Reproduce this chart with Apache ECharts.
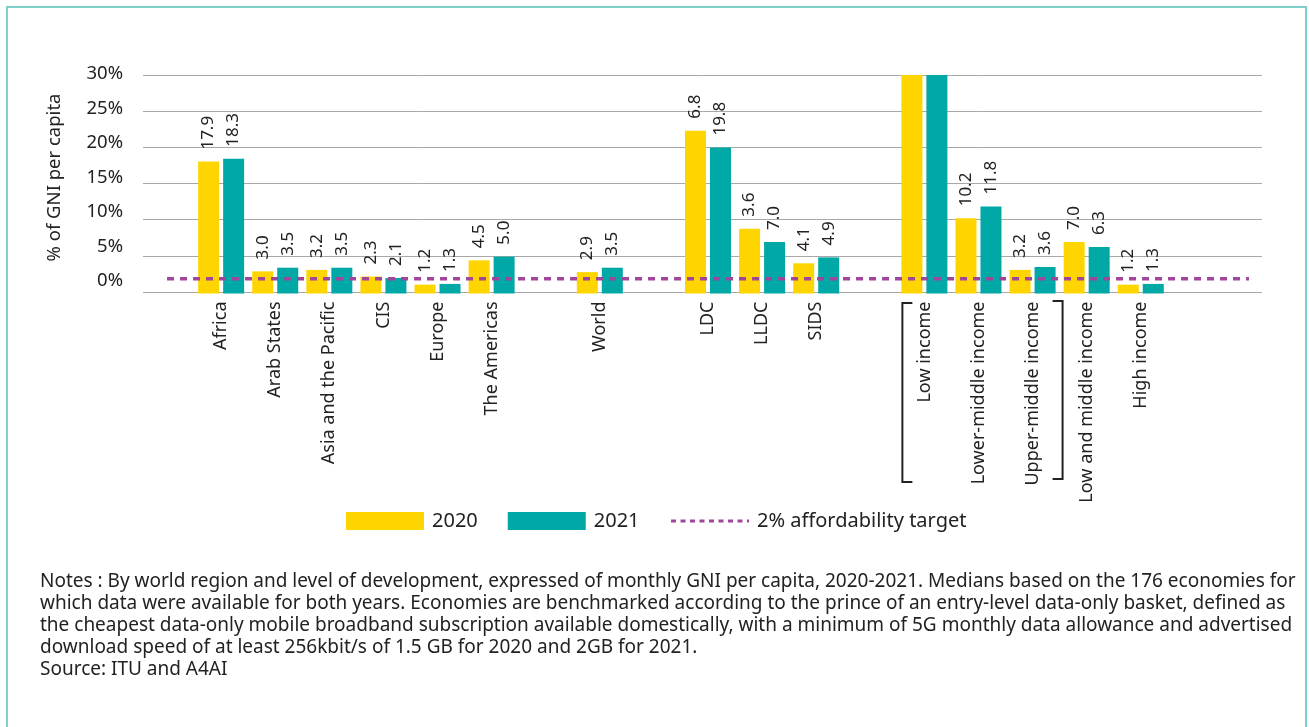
<!DOCTYPE html>
<html><head><meta charset="utf-8">
<script src="https://cdn.jsdelivr.net/npm/echarts@6/dist/echarts.min.js"></script>
<style>html,body{margin:0;padding:0;background:#fff}#c{width:1309px;height:727px}</style>
</head><body><div id="c"></div>
<script>
const categories = [' ', 'Africa', 'Arab States', 'Asia and the Pacific', 'CIS', 'Europe', 'The Americas', '  ', 'World', '   ', 'LDC', 'LLDC', 'SIDS', '    ', 'Low income', 'Lower-middle income', 'Upper-middle income', 'Low and middle income', 'High income', '     ', '      '];
const values2020 = [null, 17.9, 3.0, 3.2, 2.3, 1.2, 4.5, null, 2.9, null, 22.1, 8.8, 4.1, null, 30, 10.2, 3.2, 7.0, 1.2, null, null];
const labels2020 = ['', '17.9', '3.0', '3.2', '2.3', '1.2', '4.5', '', '2.9', '', '6.8', '3.6', '4.1', '', '', '10.2', '3.2', '7.0', '1.2', '', ''];
const values2021 = [null, 18.3, 3.5, 3.5, 2.1, 1.3, 5.0, null, 3.5, null, 19.8, 7.0, 4.9, null, 30, 11.8, 3.6, 6.3, 1.3, null, null];
const labels2021 = ['', '18.3', '3.5', '3.5', '2.1', '1.3', '5.0', '', '3.5', '', '19.8', '7.0', '4.9', '', '', '11.8', '3.6', '6.3', '1.3', '', ''];
const targetLine = [2, 2, 2, 2, 2, 2, 2, 2, 2, 2, 2, 2, 2, 2, 2, 2, 2, 2, 2, 2, 2];
const yTicks = [0, 5, 10, 15, 20, 25, 30];
const seriesNames = ['2020', '2021', '2% affordability target'];
const notesText = [
  'Notes : By world region and level of development, expressed of monthly GNI per capita, 2020-2021. Medians based on the 176 economies for',
  'which data were available for both years. Economies are benchmarked according to the prince of an entry-level data-only basket, defined as',
  'the cheapest data-only mobile broadband subscription available domestically, with a minimum of 5G monthly data allowance and advertised',
  'download speed of at least 256kbit/s of 1.5 GB for 2020 and 2GB for 2021.',
  'Source: ITU and A4AI'
];

const FONT = 'Noto Sans';
const TXT = '#222';
const chart = echarts.init(document.getElementById('c'), null, {renderer: 'canvas'});

const labelCfg = (arr) => ({
  show: true, rotate: 90, position: 'top', align: 'left', verticalAlign: 'middle',
  distance: 12, fontFamily: FONT, fontSize: 17, color: TXT,
  formatter: p => arr[p.dataIndex]
});

const option = {
  animation: false,
  backgroundColor: '#fff',
  textStyle: {fontFamily: FONT},
  grid: [
    {left: 140, right: 33, top: 75, bottom: 433.5},
    {left: 143, right: 47, top: 75, bottom: 435},
    {left: 143, right: 47, top: 74, bottom: 446}
  ],
  xAxis: [
    {type: 'category', gridIndex: 0, data: categories,
     axisLine: {show: false}, axisTick: {show: false},
     axisLabel: {interval: 0, rotate: 90, margin: 8, fontFamily: FONT, fontSize: 18, color: TXT}},
    {type: 'value', gridIndex: 1, show: false},
    {type: 'value', gridIndex: 2, show: false}
  ],
  yAxis: [
    {type: 'value', gridIndex: 0, min: 0, max: 29.65, show: false, splitLine: {show: false}},
    {type: 'value', gridIndex: 1, min: yTicks[0], max: yTicks[yTicks.length - 1], interval: 5,
     axisLabel: {show: false}, axisLine: {show: false}, axisTick: {show: false},
     splitLine: {show: true, lineStyle: {color: '#a8a8a8', width: 1}}},
    {type: 'value', gridIndex: 2, min: yTicks[0], max: yTicks[yTicks.length - 1], interval: 5,
     axisLine: {show: false}, axisTick: {show: false}, splitLine: {show: false},
     axisLabel: {margin: 20, fontFamily: FONT, fontSize: 18.5, color: TXT, formatter: v => v + '%'},
     name: '% of GNI per capita', nameLocation: 'middle', nameGap: 79,
     nameTextStyle: {fontFamily: FONT, fontSize: 18.5, color: TXT}}
  ],
  legend: {
    left: 346, top: 511, padding: 0, itemWidth: 78, itemHeight: 18, itemGap: 30,
    textStyle: {fontFamily: FONT, fontSize: 20, color: TXT, padding: [0, 0, 0, 3]},
    data: [
      {name: seriesNames[0], icon: 'rect'},
      {name: seriesNames[1], icon: 'rect'},
      {name: seriesNames[2], itemStyle: {opacity: 0}, lineStyle: {width: 3, type: [5, 4.5]}}
    ]
  },
  series: [
    {name: seriesNames[0], type: 'bar', xAxisIndex: 0, yAxisIndex: 0, data: values2020,
     barWidth: 21, barGap: '19%', itemStyle: {color: '#FFD500'}, label: labelCfg(labels2020), z: 3},
    {name: seriesNames[1], type: 'bar', xAxisIndex: 0, yAxisIndex: 0, data: values2021,
     barWidth: 21, itemStyle: {color: '#00A8A6'}, label: labelCfg(labels2021), z: 3},
    {name: seriesNames[2], type: 'line', xAxisIndex: 0, yAxisIndex: 0, data: targetLine,
     symbol: 'none', itemStyle: {color: '#A0459A'},
     lineStyle: {color: '#A0459A', width: 3.5, type: [7, 6]}, z: 5}
  ]
};
chart.setOption(option);

// annotations: frame, notes, bracket around income groups
const lowIdx = categories.indexOf('Low income');
const umIdx = categories.indexOf('Upper-middle income');
const xl = chart.convertToPixel({xAxisIndex: 0}, lowIdx) - 22;
const xr = chart.convertToPixel({xAxisIndex: 0}, umIdx) + 30;
chart.setOption({
  graphic: [
    {type: 'rect', shape: {x: 7, y: 7, width: 1299, height: 760},
     style: {fill: 'none', stroke: '#7fd0cb', lineWidth: 2}, silent: true},
    {type: 'polyline', shape: {points: [[xl + 10, 303], [xl, 303], [xl, 482], [xl + 10, 482]]},
     style: {stroke: '#222', lineWidth: 2, fill: 'none'}},
    {type: 'polyline', shape: {points: [[xr - 10, 301], [xr, 301], [xr, 479], [xr - 10, 479]]},
     style: {stroke: '#222', lineWidth: 2, fill: 'none'}},
    {type: 'text', left: 40, top: 571,
     style: {text: notesText.join('\n'), fontFamily: FONT, fontSize: 19, lineHeight: 22, fill: TXT}}
  ]
});
</script></body></html>
